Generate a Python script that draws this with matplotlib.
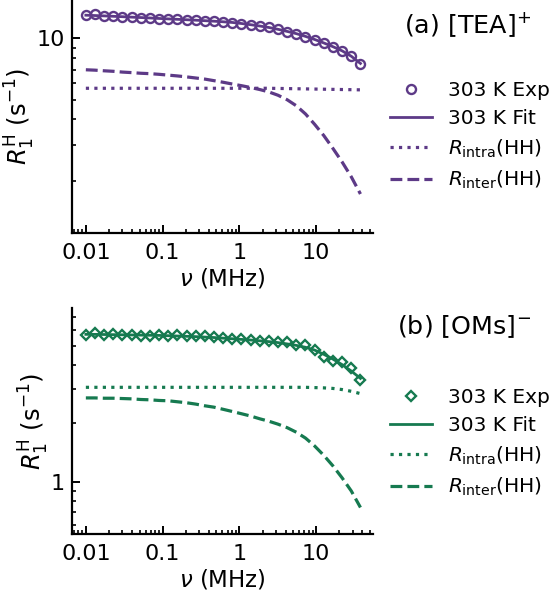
import matplotlib
matplotlib.use("Agg")
import matplotlib.pyplot as plt
from matplotlib.ticker import NullFormatter, LogLocator

plt.rcParams['font.family'] = ['DejaVu Sans']
plt.rcParams['mathtext.fontset'] = 'dejavusans'

# Frequencies (MHz)
freq = [0.0100, 0.01315, 0.01730, 0.02280, 0.0300, 0.0395, 0.0519, 0.0683,
        0.0899, 0.1183, 0.1556, 0.2047, 0.2692, 0.3548, 0.4667, 0.6138,
        0.8072, 1.062, 1.400, 1.841, 2.421, 3.184, 4.188, 5.521, 7.261,
        9.550, 12.56, 16.52, 21.78, 28.64, 37.76]

# (a) [TEA]+
tea_exp = [12.96, 13.08, 12.89, 12.82, 12.74, 12.67, 12.62, 12.56, 12.49, 12.43,
           12.38, 12.32, 12.27, 12.18, 12.12, 12.05, 11.94, 11.78, 11.62, 11.48,
           11.30, 11.04, 10.76, 10.52, 10.17, 9.83, 9.45, 9.08, 8.68, 8.16, 7.46]
tea_fit = [12.97, 12.92, 12.87, 12.81, 12.75, 12.69, 12.63, 12.57, 12.50, 12.44,
           12.38, 12.32, 12.26, 12.19, 12.12, 12.04, 11.95, 11.81, 11.65, 11.48,
           11.29, 11.06, 10.80, 10.53, 10.21, 9.86, 9.48, 9.09, 8.67, 8.16, 7.52]
tea_intra = [5.68] * 21 + [5.67, 5.66, 5.65, 5.64, 5.63, 5.62, 5.61, 5.60, 5.59, 5.58]
tea_inter = [7.00, 6.97, 6.92, 6.88, 6.82, 6.78, 6.73, 6.70, 6.65, 6.59,
             6.53, 6.46, 6.38, 6.30, 6.19, 6.08, 5.96, 5.85, 5.73, 5.60,
             5.45, 5.25, 4.99, 4.66, 4.25, 3.78, 3.33, 2.88, 2.47, 2.09, 1.72]

# (b) [OMs]-
oms_exp = [5.71, 5.78, 5.71, 5.74, 5.67, 5.71, 5.61, 5.64, 5.71, 5.64,
           5.67, 5.61, 5.64, 5.58, 5.54, 5.51, 5.44, 5.41, 5.38, 5.32,
           5.29, 5.22, 5.25, 5.07, 5.04, 4.75, 4.38, 4.17, 4.12, 3.84, 3.34]
oms_fit = [5.72, 5.72, 5.71, 5.70, 5.69, 5.68, 5.67, 5.66, 5.65, 5.63,
           5.61, 5.59, 5.57, 5.54, 5.51, 5.47, 5.43, 5.39, 5.35, 5.30,
           5.25, 5.19, 5.11, 5.02, 4.91, 4.75, 4.52, 4.27, 4.00, 3.71, 3.40]
oms_intra = [3.06] * 25 + [3.05, 3.04, 3.02, 2.98, 2.92, 2.84]
oms_inter = [2.70, 2.70, 2.69, 2.69, 2.68, 2.67, 2.65, 2.64, 2.62, 2.61,
             2.58, 2.55, 2.51, 2.46, 2.42, 2.36, 2.30, 2.24, 2.18, 2.11,
             2.05, 1.98, 1.90, 1.80, 1.68, 1.53, 1.37, 1.21, 1.05, 0.90, 0.74]

xticks = [0.01, 0.1, 1, 10]
xticklabels = ["0.01", "0.1", "1", "10"]

purple = "#5d3a87"
green = "#167a50"

W, H = 552, 597
fig = plt.figure(figsize=(W / 100, H / 100), dpi=100)

def px_axes(left, top, right, bottom):
    return fig.add_axes([left / W, 1 - bottom / H, (right - left) / W, (bottom - top) / H])

ax1 = px_axes(72, 0, 373, 233)
ax2 = px_axes(72, 308, 373, 534)

panels = [
    (ax1, tea_exp, tea_fit, tea_intra, tea_inter, purple, 'o', 6.5,
     (1.107, 15.4), [10], ["10"], r"(a) [TEA]$^{+}$", 404, 25, 81),
    (ax2, oms_exp, oms_fit, oms_intra, oms_inter, green, 'D', 5.4,
     (0.541, 7.81), [1], ["1"], r"(b) [OMs]$^{-}$", 397, 327, 388),
]

for (ax, exp, fit, intra, inter, col, mk, ms, ylim, yt, ytl, title, tx, ty, ly) in panels:
    ax.plot(freq, fit, '-', color=col, lw=2.0, label="303 K Fit", zorder=2)
    ax.plot(freq, intra, ':', color=col, lw=2.3, label=r"$R_{\mathrm{intra}}$(HH)", zorder=2)
    ax.plot(freq, inter, '--', color=col, lw=2.3, label=r"$R_{\mathrm{inter}}$(HH)", zorder=2)
    ax.plot(freq, exp, mk, mfc='none', mec=col, mew=1.7, ms=ms, ls='none',
            label="303 K Exp", zorder=3)
    ax.set_xscale('log')
    ax.set_yscale('log')
    ax.set_xlim(0.0066, 55)
    ax.set_ylim(*ylim)
    ax.set_xticks(xticks)
    ax.set_xticklabels(xticklabels)
    ax.xaxis.set_minor_locator(LogLocator(base=10, subs=[2, 3, 4, 5, 6, 7, 8, 9], numticks=20))
    ax.xaxis.set_minor_formatter(NullFormatter())
    ax.set_yticks(yt)
    ax.set_yticklabels(ytl)
    ax.yaxis.set_minor_locator(LogLocator(base=10, subs=[2, 3, 4, 5, 6, 7, 8, 9], numticks=20))
    ax.yaxis.set_minor_formatter(NullFormatter())
    for s in ['top', 'right']:
        ax.spines[s].set_visible(False)
    for s in ['left', 'bottom']:
        ax.spines[s].set_linewidth(1.6)
    ax.tick_params(which='major', direction='in', length=6, width=1.4, labelsize=16)
    ax.tick_params(axis='x', which='major', pad=7)
    ax.tick_params(axis='y', which='major', pad=5)
    ax.tick_params(which='minor', direction='in', length=3.2, width=1.2)
    ax.set_xlabel(r"$\nu$ (MHz)", fontsize=16.5, labelpad=3)
    ax.set_ylabel(r"$R_1^{\mathrm{H}}$ (s$^{-1}$)", fontsize=17.5, labelpad=0)
    ax.patch.set_visible(False)

    fig.text(tx / W, 1 - ty / H, title, fontsize=18.3, ha='left', va='center')
    h, l = ax.get_legend_handles_labels()
    order = [3, 0, 1, 2]
    ax.legend([h[i] for i in order], [l[i] for i in order],
              loc='upper left', bbox_to_anchor=(390 / W, 1 - ly / H),
              bbox_transform=fig.transFigure, frameon=False, fontsize=14.5,
              borderpad=0, borderaxespad=0, handlelength=2.1,
              handletextpad=0.8, labelspacing=0.46, numpoints=1)

fig.savefig("out.png", dpi=100)
